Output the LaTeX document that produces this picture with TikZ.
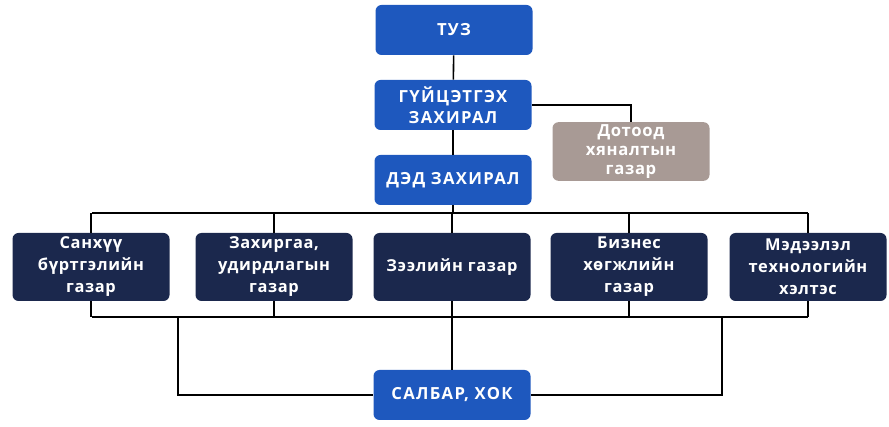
\documentclass[tikz,border=0pt]{standalone}
\usepackage{fontspec}
\setmainfont{Open Sans}
\newfontfamily\boxfont[LetterSpace=4]{Open Sans}
\newfontfamily\headfont[LetterSpace=8]{Open Sans}
\usetikzlibrary{positioning}
\definecolor{headblue}{RGB}{30,88,190}
\definecolor{deptnavy}{RGB}{27,40,77}
\definecolor{auditgrey}{RGB}{168,154,149}
\tikzset{
  orgbox/.style={rounded corners=4.5pt, text=white, align=center, inner sep=0pt, minimum width=117.75pt},
  headbox/.style={orgbox, fill=headblue, minimum height=37.5pt, font=\headfont\bfseries\fontsize{12.5}{16}\selectfont},
  deptbox/.style={orgbox, fill=deptnavy, minimum height=51pt, font=\boxfont\bfseries\fontsize{12.3}{16.5}\selectfont},
  link/.style={line width=1.2pt, black}
}
\begin{document}
\begin{tikzpicture}[x=0.75pt,y=0.75pt,yscale=-1,xscale=1]
\useasboundingbox (0,0) rectangle (889,427);

%Shape: top boxes
\node [headbox] (tuz) at (454,30) {ТУЗ};
\node [headbox] (ceo) at (453,105) {ГҮЙЦЭТГЭХ\\ЗАХИРАЛ};
\node [headbox] (deputy) at (453,180) {ДЭД ЗАХИРАЛ};
\node [orgbox, fill=auditgrey, minimum height=44pt, font=\boxfont\bfseries\fontsize{12.5}{14.5}\selectfont] (audit) at (631,151.5) {Дотоод\\хяналтын\\газар};

%Shape: department row
\node [deptbox] (finance) at (91,267) {Санхүү\\бүртгэлийн\\газар};
\node [deptbox] (admin) at (274,267) {Захиргаа,\\удирдлагын\\газар};
\node [deptbox] (loan) at (452,267) {Зээлийн газар};
\node [deptbox] (business) at (629,267) {Бизнес\\хөгжлийн\\газар};
\node [deptbox] (itunit) at (808,267) {Мэдээлэл\\технологийн\\хэлтэс};

%Shape: branch box
\node [headbox] (branch) at (452,395) {САЛБАР, ХОК};

%Straight Lines: coordinates of the buses
\coordinate (upbusL) at (92,213);
\coordinate (upbusR) at (808,213);
\coordinate (lowbusL) at (92,317);
\coordinate (lowbusR) at (808,317);
\coordinate (sideL) at (178,317);
\coordinate (sideR) at (722,317);

%Straight Lines: top chain
\draw [link] (tuz) -- (ceo);
\draw [link] (ceo) -- (deputy);
\draw [link] (ceo.east) -| (audit.north);
\draw [link] (deputy.south) -- (deputy.south |- upbusL);

%Straight Lines: buses
\draw [link] (upbusL) -- (upbusR);
\draw [link] (lowbusL) -- (lowbusR);
\foreach \d in {finance,admin,loan,business,itunit}
  {
  \draw [link] (\d.north) -- (\d.north |- upbusL);
  \draw [link] (\d.south) -- (\d.south |- lowbusL);
  }

%Straight Lines: to the branch box
\draw [link] (loan.south) -- (branch.north);
\draw [link] (sideL) |- (branch.west);
\draw [link] (sideR) |- (branch.east);

\end{tikzpicture}
\end{document}
